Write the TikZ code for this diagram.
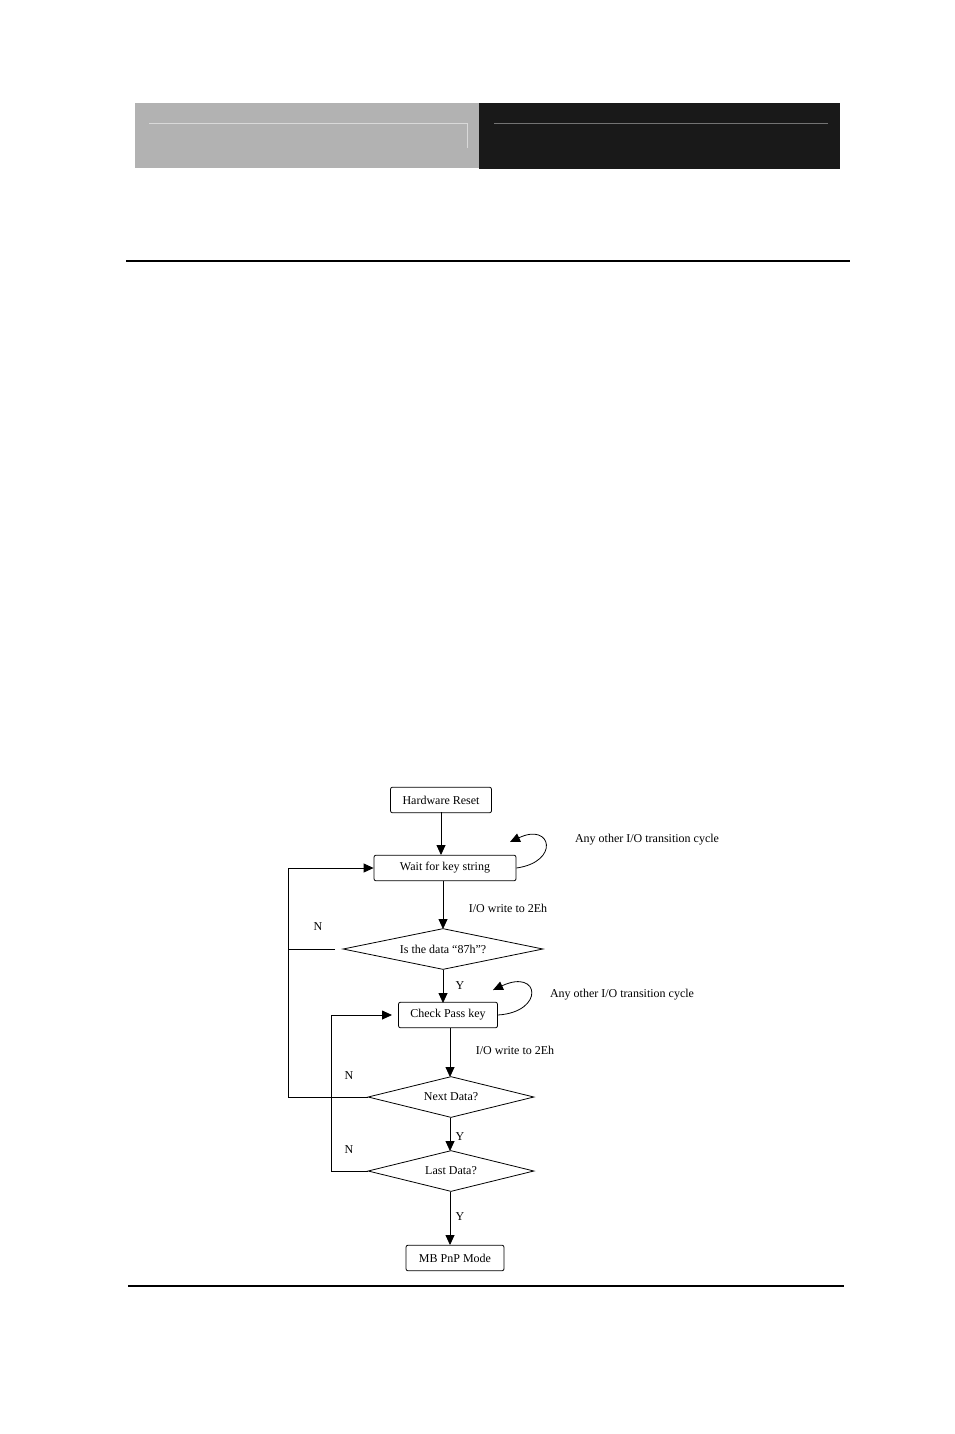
\documentclass[tikz,border=0pt]{standalone}
\usepackage{fontspec}
\setmainfont{Liberation Serif}
\usetikzlibrary{shapes.geometric,arrows.meta}
\tikzset{
  stepbox/.style={draw,rounded corners=1pt,inner sep=0pt,minimum height=12.8pt},
  testbox/.style={draw,diamond,inner sep=0pt,aspect=5},
  flow/.style={-{Triangle[length=5pt,width=4.5pt]}},
  note/.style={inner sep=0pt,font=\fontsize{6}{7}\selectfont}
}
\begin{document}
\begin{tikzpicture}[x=0.5pt,y=-0.5pt,every node/.style={font=\fontsize{6}{7}\selectfont}]
\useasboundingbox (0,0) rectangle (954,1434);
% page header
\fill[black!30] (135,103) rectangle (479,168);
\fill[black!90] (479,103) rectangle (840,169);
\draw[black!15,line width=0.4pt] (149,123) -- (467,123) -- (467,148);
\draw[black!55,line width=0.4pt] (494,123) -- (828,123);
\draw[line width=0.8pt] (126,261) -- (850,261);
\draw[line width=0.8pt] (128,1286) -- (844,1286);
% flow chart
\node[stepbox,minimum width=50.5pt] (reset) at (441,800) {Hardware Reset};
\node[stepbox,minimum width=71pt] (wait) at (445,868) {Wait for key string};
\node[testbox,minimum width=100pt,minimum height=20.5pt] (first) at (443,949) {Is the data “87h”?};
\node[stepbox,minimum width=49.5pt] (check) at (448,1015) {Check Pass key};
\node[testbox,minimum width=83pt,minimum height=20.5pt] (next) at (451,1097) {Next Data?};
\node[testbox,minimum width=83pt,minimum height=20.5pt] (last) at (451,1171) {Last Data?};
\node[stepbox,minimum width=49pt] (mode) at (455,1258) {MB PnP Mode};
\draw[flow] (441,812) -- (441,855);
\draw[flow] (443,881) -- (443,929);
\draw[flow] (443,970) -- (443,1003);
\draw[flow] (450,1028) -- (450,1077);
\draw[flow] (450,1118) -- (450,1151);
\draw[flow] (450,1192) -- (450,1245);
% N branches
\draw[flow] (335,949) -- (288,949) -- (288,868) -- (wait.west);
\draw (next.west) -- (288,1097) -- (288,949);
\draw[flow] (last.west) -- (331,1171) -- (331,1015) -- (392,1015);
% self loops
\draw[flow] (wait.east) .. controls (560,862) and (552,822) .. (510,842);
\draw[flow] (check.east) .. controls (545,1012) and (540,968) .. (493,990);
% labels
\node[note] at (647,840) {Any other I/O transition cycle};
\node[note] at (622,995) {Any other I/O transition cycle};
\node[note] at (508,908) {I/O write to 2Eh};
\node[note] at (515,1050) {I/O write to 2Eh};
\node[note] at (318,927) {N};
\node[note] at (349,1076) {N};
\node[note] at (349,1150) {N};
\node[note] at (460,986) {Y};
\node[note] at (460,1137) {Y};
\node[note] at (460,1217) {Y};
\end{tikzpicture}
\end{document}
